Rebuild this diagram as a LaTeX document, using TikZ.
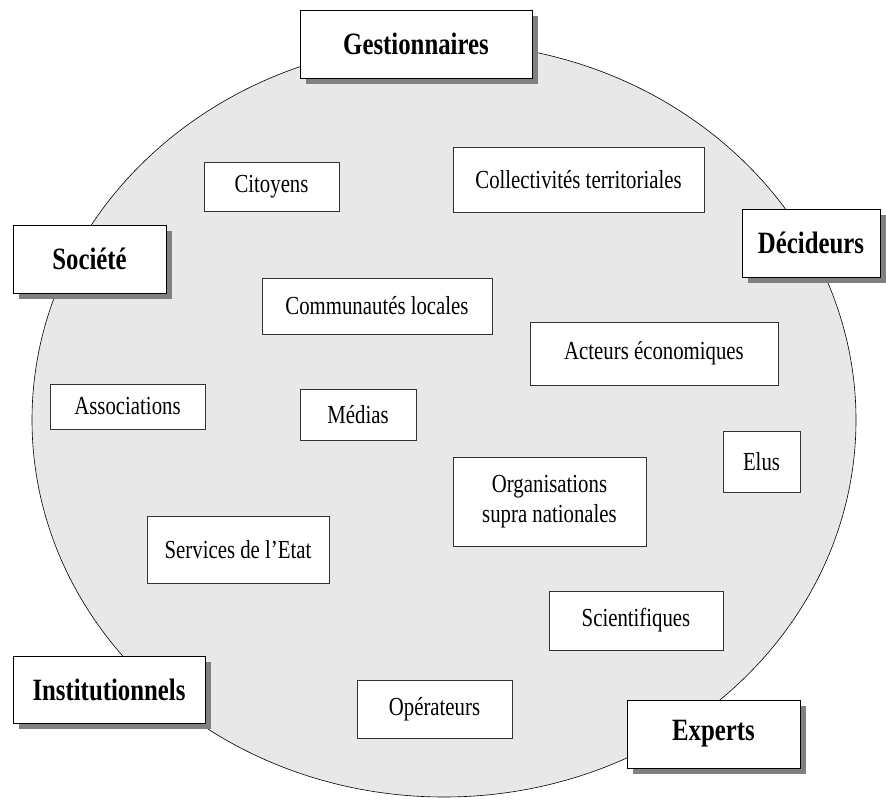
\documentclass[tikz,border=0pt]{standalone}
\usepackage{fontspec}
\setmainfont{Liberation Serif}[FakeStretch=0.8]
\usepackage{tikz}
\usepackage{xcolor}
\usetikzlibrary{shapes, shadows, positioning}
\definecolor{discgrey}{rgb}{0.91, 0.91, 0.91}
\definecolor{shadowgrey}{rgb}{0.5, 0.5, 0.5}
\definecolor{edgegrey}{rgb}{0.2, 0.2, 0.2}

\tikzset{
    rolebox/.style={draw, thick, fill=white, inner sep=2pt, font=\fontsize{31}{34}\selectfont\bfseries,
        drop shadow={shadow xshift=6pt, shadow yshift=-6pt, fill=shadowgrey, opacity=1}},
    actorbox/.style={draw=edgegrey, semithick, fill=white, inner sep=2pt, align=center,
        font=\fontsize{26}{30}\selectfont}
}

\begin{document}
\begin{tikzpicture}[x=1pt, y=-1pt]
        \useasboundingbox (0,0) rectangle (886,800);

        \draw [semithick, fill=discgrey] (444,420) ellipse [x radius=412pt, y radius=377pt];

        % roles around the disc
        \node[rolebox, minimum width=232pt, minimum height=68pt] (Ges) at (416, 44) {Gestionnaires};
        \node[rolebox, minimum width=153pt, minimum height=68pt] (Soc) at (89.5, 259) {Société};
        \node[rolebox, minimum width=138pt, minimum height=68pt] (Dec) at (811, 243) {Décideurs};
        \node[rolebox, minimum width=192pt, minimum height=67pt] (Ins) at (109, 689.5) {Institutionnels};
        \node[rolebox, minimum width=173pt, minimum height=68pt] (Exp) at (713.5, 734) {Experts};

        % actors inside the disc
        \node[actorbox, minimum width=135pt, minimum height=49pt] (Cit) at (271.5, 186.5) {Citoyens};
        \node[actorbox, minimum width=251pt, minimum height=65pt] (Col) at (578.5, 179.5) {Collectivités territoriales};
        \node[actorbox, minimum width=230pt, minimum height=56pt] (Com) at (377, 306) {Communautés locales};
        \node[actorbox, minimum width=248pt, minimum height=63pt] (Act) at (654, 353.5) {Acteurs économiques};
        \node[actorbox, minimum width=155pt, minimum height=45pt] (Ass) at (127.5, 406.5) {Associations};
        \node[actorbox, minimum width=116pt, minimum height=51pt] (Med) at (358, 414.5) {Médias};
        \node[actorbox, minimum width=77pt, minimum height=61pt] (Elu) at (761.5, 461.5) {Elus};
        \node[actorbox, minimum width=193pt, minimum height=89pt] (Org) at (549.5, 501.5) {Organisations\\supra nationales};
        \node[actorbox, minimum width=182pt, minimum height=67pt] (Ser) at (238, 549.5) {Services de l'Etat};
        \node[actorbox, minimum width=174pt, minimum height=59pt] (Sci) at (636, 620.5) {Scientifiques};
        \node[actorbox, minimum width=155pt, minimum height=58pt] (Ope) at (434.5, 709) {Opérateurs};

\end{tikzpicture}
\end{document}
